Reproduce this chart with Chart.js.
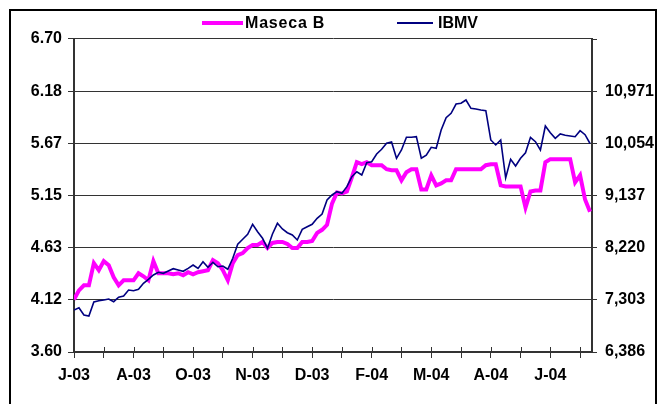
<!DOCTYPE html>
<html>
<head>
<meta charset="utf-8">
<script src="https://cdn.jsdelivr.net/npm/chart.js@4"></script>
<style>
  html, body { margin: 0; padding: 0; background: #fff; }
  #wrap { position: relative; width: 657px; height: 404px; overflow: hidden; }
  #chart { position: absolute; left: 0; top: 0; }
  #frame { position: absolute; left: 9px; top: 9px; width: 644px; height: 420px; border: 2px solid #000; }
  .leg { position: absolute; font: bold 16px Arial, "Liberation Sans", sans-serif; color: #000; line-height: 16px; top: 15px; }
  .sw { position: absolute; }
</style>
</head>
<body>
<div id="wrap">
  <canvas id="chart" width="657" height="404"></canvas>
  <div id="frame"></div>
  <div class="sw" style="left:202px; top:21px; width:41px; height:4px; background:#ff00ff;"></div>
  <div class="leg" style="left:245px; letter-spacing:0.8px;">Maseca B</div>
  <div class="sw" style="left:397px; top:22px; width:36px; height:2px; background:#000080;"></div>
  <div class="leg" style="left:438px;">IBMV</div>
</div>
<script>
// Etiquetas del eje X (cada dos marcas)
const tickLabels = ["J-03", "A-03", "O-03", "N-03", "D-03", "F-04", "M-04", "A-04", "J-04"];

// Maseca B (pesos, eje izquierdo)
const maseca = [
  4.12, 4.21, 4.26, 4.26, 4.48, 4.41, 4.50, 4.46, 4.34, 4.26,
  4.31, 4.31, 4.31, 4.38, 4.35, 4.31, 4.50, 4.38, 4.38, 4.38,
  4.37, 4.38, 4.36, 4.39, 4.37, 4.39, 4.40, 4.41, 4.51, 4.48,
  4.41, 4.31, 4.48, 4.56, 4.58, 4.63, 4.66, 4.66, 4.69, 4.63,
  4.68, 4.69, 4.69, 4.67, 4.63, 4.63, 4.69, 4.69, 4.70, 4.78,
  4.81, 4.86, 5.07, 5.18, 5.17, 5.19, 5.33, 5.48, 5.46, 5.48,
  5.45, 5.45, 5.45, 5.41, 5.40, 5.40, 5.30, 5.38, 5.41, 5.41,
  5.21, 5.21, 5.35, 5.25, 5.27, 5.30, 5.30, 5.41, 5.41, 5.41,
  5.41, 5.41, 5.41, 5.45, 5.46, 5.46, 5.25, 5.24, 5.24, 5.24,
  5.24, 5.03, 5.19, 5.20, 5.20, 5.48, 5.51, 5.51, 5.51, 5.51,
  5.51, 5.28, 5.35, 5.11, 4.99
];

// IBMV (puntos, eje derecho)
const ibmv = [
  7124, 7165, 7036, 7019, 7265, 7288, 7300, 7318, 7270, 7348,
  7370, 7476, 7464, 7488, 7594, 7664, 7740, 7787, 7769, 7810,
  7850, 7827, 7805, 7857, 7915, 7854, 7973, 7875, 7963, 7885,
  7898, 7840, 8033, 8279, 8367, 8455, 8630, 8501, 8385, 8209,
  8460, 8648, 8548, 8483, 8443, 8355, 8543, 8589, 8631, 8736,
  8812, 9058, 9146, 9204, 9176, 9292, 9467, 9555, 9497, 9714,
  9731, 9866, 9949, 10055, 10077, 9791, 9937, 10160, 10160, 10171,
  9791, 9844, 9984, 9967, 10288, 10505, 10582, 10745, 10758, 10816,
  10670, 10657, 10640, 10628, 10113, 10025, 10113, 9445, 9773, 9656,
  9791, 9889, 10160, 10083, 9937, 10359, 10241, 10142, 10218, 10195,
  10183, 10171, 10276, 10206, 10051
];

const leftTicks = [3.60, 6.70];
const rightTicks = [6386, 917];   // minimo y paso
const perTick = 6;                // puntos entre marcas del eje X

const font = { family: "Arial, 'Liberation Sans', sans-serif", size: 16, weight: "bold" };
const axisColor = "#333";

const innerTicks = {
  id: "innerTicks",
  afterDraw(chart) {
    const x = chart.scales.x, ctx = chart.ctx, b = chart.chartArea.bottom;
    ctx.save();
    ctx.strokeStyle = axisColor;
    ctx.lineWidth = 1;
    x.ticks.forEach(t => {
      const px = Math.round(x.getPixelForValue(t.value)) + 0.5;
      ctx.beginPath();
      ctx.moveTo(px, b - 5);
      ctx.lineTo(px, b);
      ctx.stroke();
    });
    ctx.restore();
  }
};

const xTicks = [];
for (let v = 0; v <= 102; v += perTick) xTicks.push(v);

new Chart(document.getElementById("chart"), {
  type: "line",
  data: {
    datasets: [
      {
        label: "IBMV",
        data: ibmv.map((v, i) => ({ x: i, y: v })),
        yAxisID: "y1",
        borderColor: "#000080",
        borderWidth: 1.6,
        pointRadius: 0,
        tension: 0,
        order: 0
      },
      {
        label: "Maseca B",
        data: maseca.map((v, i) => ({ x: i, y: v })),
        yAxisID: "y",
        borderColor: "#ff00ff",
        borderWidth: 4,
        pointRadius: 0,
        tension: 0,
        order: 1
      }
    ]
  },
  options: {
    responsive: false,
    animation: false,
    devicePixelRatio: 1,
    layout: { padding: { top: 39, left: 0, right: 0, bottom: 0 } },
    plugins: { legend: { display: false }, tooltip: { enabled: false } },
    scales: {
      x: {
        type: "linear",
        min: 0,
        max: 104.4,
        afterBuildTicks: s => { s.ticks = xTicks.map(v => ({ value: v })); },
        afterFit: s => { s.height = 52; },
        ticks: {
          autoSkip: false,
          maxRotation: 0,
          padding: 8,
          color: "#000",
          font: font,
          callback: v => (v % (perTick * 2) === 0 ? tickLabels[v / (perTick * 2)] : "")
        },
        grid: { drawOnChartArea: false, tickLength: 6, color: axisColor },
        border: { color: axisColor, width: 2 }
      },
      y: {
        position: "left",
        min: leftTicks[0],
        max: leftTicks[1],
        afterBuildTicks: s => {
          const step = (leftTicks[1] - leftTicks[0]) / 6;
          s.ticks = [0, 1, 2, 3, 4, 5, 6].map(i => ({ value: leftTicks[0] + step * i }));
        },
        afterFit: s => { s.width = 74; },
        ticks: { color: "#000", font: font, padding: 6, callback: v => v.toFixed(2) },
        grid: { color: axisColor, lineWidth: 1, tickLength: 6 },
        border: { color: axisColor, width: 2 }
      },
      y1: {
        position: "right",
        min: rightTicks[0],
        max: rightTicks[0] + rightTicks[1] * 6,
        afterBuildTicks: s => {
          s.ticks = [0, 1, 2, 3, 4, 5, 6].map(i => ({ value: rightTicks[0] + rightTicks[1] * i }));
        },
        afterFit: s => { s.width = 65; },
        ticks: {
          color: "#000",
          font: font,
          padding: 8,
          callback: v => (v >= rightTicks[0] + rightTicks[1] * 6 ? "" : v.toLocaleString("en-US"))
        },
        grid: { drawOnChartArea: false, tickLength: 5, color: axisColor },
        border: { color: axisColor, width: 2 }
      }
    }
  },
  plugins: [innerTicks]
});
</script>
</body>
</html>
